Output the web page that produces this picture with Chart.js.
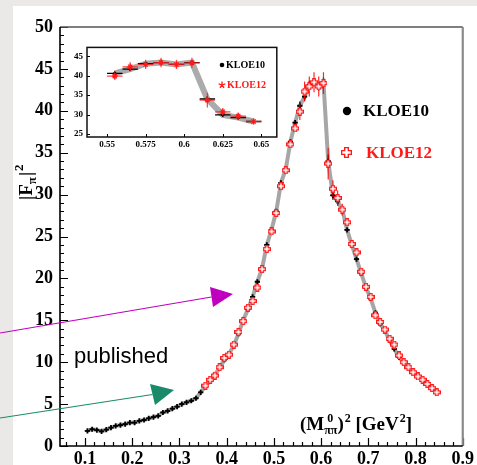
<!DOCTYPE html>
<html>
<head>
<meta charset="utf-8">
<script src="https://cdn.jsdelivr.net/npm/chart.js@4.4.0/dist/chart.umd.min.js"></script>
<style>
  html, body { margin: 0; padding: 0; background: #ebe9e7; }
  #wrap { position: relative; width: 477px; height: 465px; }
  #main { position: absolute; left: 0; top: 0; }
  #inset { position: absolute; left: 66px; top: 38px; }
</style>
</head>
<body>
<div id="wrap">
  <canvas id="main" width="477" height="465"></canvas>
  <canvas id="inset" width="216" height="114"></canvas>
</div>
<script>
// KLOE10: bin centres (GeV^2) and |F_pi|^2
let kloe10X = [
  0.105, 0.115, 0.125, 0.135, 0.145, 0.155, 0.165, 0.175, 0.185, 0.195,
  0.205, 0.215, 0.225, 0.235, 0.245, 0.255, 0.265, 0.275, 0.285, 0.295,
  0.305, 0.315, 0.325, 0.335, 0.345, 0.355, 0.365, 0.375, 0.385, 0.395,
  0.405, 0.415, 0.425, 0.435, 0.445, 0.455, 0.465, 0.475, 0.485, 0.495,
  0.505, 0.515, 0.525, 0.535, 0.545, 0.555, 0.565, 0.575, 0.585, 0.595,
  0.605, 0.615, 0.625, 0.635, 0.645, 0.655, 0.665, 0.675, 0.685, 0.695,
  0.705, 0.715, 0.725, 0.735, 0.745, 0.755, 0.765, 0.775, 0.785, 0.795,
  0.805, 0.815, 0.825, 0.835, 0.845
];
let kloe10Y = [
  1.8, 2.0, 1.9, 1.75, 1.95, 2.2, 2.4, 2.5, 2.6, 2.8,
  2.8, 3.0, 3.1, 3.3, 3.45, 3.6, 4.0, 4.2, 4.45, 4.7,
  5.0, 5.2, 5.4, 5.7, 6.4, 7.1, 7.8, 8.5, 9.3, 10.3,
  11.0, 12.0, 13.4, 15.0, 16.3, 17.8, 19.6, 21.2, 24.0, 25.8,
  28.0, 31.4, 33.0, 36.3, 38.6, 40.6, 41.7, 43.1, 43.4, 42.9,
  43.4, 34.0, 29.9, 29.2, 28.2, 25.8, 24.0, 22.3, 20.6, 18.9,
  17.6, 15.9, 14.6, 13.8, 12.6, 11.6, 10.6, 9.9, 9.3, 8.7,
  8.2, 7.8, 7.3, 6.9, 6.5
];

// KLOE12
let kloe12X = [
  0.355, 0.365, 0.375, 0.385, 0.395,
  0.405, 0.415, 0.425, 0.435, 0.445, 0.455, 0.465, 0.475, 0.485, 0.495,
  0.505, 0.515, 0.525, 0.535, 0.545, 0.555, 0.565, 0.575, 0.585, 0.595,
  0.605, 0.615, 0.625, 0.635, 0.645, 0.655, 0.665, 0.675, 0.685, 0.695,
  0.705, 0.715, 0.725, 0.735, 0.745, 0.755, 0.765, 0.775, 0.785, 0.795,
  0.805, 0.815, 0.825, 0.835, 0.845
];
let kloe12Y = [
  7.2, 7.9, 8.4, 9.4, 10.5,
  10.9, 12.1, 13.6, 14.9, 16.5, 17.3, 18.9, 21.1, 23.5, 25.6,
  27.8, 31.0, 32.9, 36.0, 37.9, 39.9, 42.3, 42.9, 43.4, 42.9,
  43.3, 33.7, 30.7, 29.6, 28.2, 26.7, 24.1, 23.1, 20.8, 19.0,
  17.8, 15.6, 14.8, 13.9, 12.8, 12.1, 10.8, 10.0, 9.4, 8.8,
  8.3, 7.9, 7.4, 6.9, 6.4
];

// vertical errors read around the peak (the inset range)
let peakX = [0.555, 0.565, 0.575, 0.585, 0.595, 0.605, 0.615, 0.625, 0.635, 0.645];
let peakErr10 = [0.5, 0.5, 0.5, 0.5, 0.5, 0.6, 0.8, 0.5, 0.5, 0.4];
let peakErr12 = [1.0, 1.2, 1.2, 1.2, 1.2, 1.3, 1.9, 1.0, 0.9, 0.7];

let mainXTicks = [0.1, 0.2, 0.3, 0.4, 0.5, 0.6, 0.7, 0.8, 0.9];
let mainYTicks = [0, 5, 10, 15, 20, 25, 30, 35, 40, 45, 50];
let insetXTicks = [0.55, 0.575, 0.6, 0.625, 0.65];
let insetYTicks = [25, 30, 35, 40, 45];

const serif = '"Liberation Serif", "DejaVu Serif", serif';

let points = (xs, ys) => xs.map((x, i) => ({ x: x, y: ys[i] }));
let errorsFor = (xs, errs) => xs.map(v => {
  let k = peakX.findIndex(w => Math.abs(w - v) < 1e-6);
  return k >= 0 ? errs[k] : 0;
});
let inRange = (xs, ys, lo, hi) => {
  let out = { x: [], y: [] };
  xs.forEach((v, i) => { if (v > lo && v < hi) { out.x.push(v); out.y.push(ys[i]); } });
  return out;
};

//open red cross used for KLOE12
function openPlus(size, color, lw) {
  let c = document.createElement("canvas");
  c.width = c.height = size;
  let g = c.getContext("2d");
  let a = size / 3, e = 0.6, s = size - 0.6;
  g.beginPath();
  g.moveTo(a, e); g.lineTo(2 * a, e); g.lineTo(2 * a, a); g.lineTo(s, a);
  g.lineTo(s, 2 * a); g.lineTo(2 * a, 2 * a); g.lineTo(2 * a, s); g.lineTo(a, s);
  g.lineTo(a, 2 * a); g.lineTo(e, 2 * a); g.lineTo(e, a); g.lineTo(a, a);
  g.closePath();
  g.fillStyle = "#fff";
  g.fill();
  g.strokeStyle = color;
  g.lineWidth = lw;
  g.stroke();
  return c;
}
let redPlus = openPlus(8, "#ff1a1a", 1.2);
let redPlusBig = openPlus(11, "#ff1a1a", 1.4);

//error bars drawn before each dataset's own markers
const errorBars = {
  id: "errorBars",
  beforeDatasetDraw(chart, args) {
    let ds = chart.data.datasets[args.index];
    if (!ds.errX) return;
    let { ctx, chartArea: a, scales: { x, y } } = chart;
    ctx.save();
    ctx.beginPath();
    ctx.rect(a.left, a.top, a.right - a.left, a.bottom - a.top);
    ctx.clip();
    ctx.strokeStyle = ds.barColor;
    ctx.lineWidth = ds.barWidth;
    ds.data.forEach((p, i) => {
      let px = x.getPixelForValue(p.x), py = y.getPixelForValue(p.y);
      ctx.beginPath();
      ctx.moveTo(x.getPixelForValue(p.x - ds.errX), py);
      ctx.lineTo(x.getPixelForValue(p.x + ds.errX), py);
      let e = ds.errY ? ds.errY[i] : 0;
      if (e) {
        ctx.moveTo(px, y.getPixelForValue(p.y - e));
        ctx.lineTo(px, y.getPixelForValue(p.y + e));
      }
      ctx.stroke();
    });
    ctx.restore();
  },
};

//inward tick marks
function drawTicks(chart, o) {
  let { ctx, chartArea: a, scales: { x, y } } = chart;
  let isMajor = (v, m) => Math.abs(v / m - Math.round(v / m)) < 1e-6;
  ctx.save();
  ctx.strokeStyle = "#000";
  ctx.lineWidth = o.tickWidth;
  ctx.beginPath();
  for (let k = 0; ; k++) {
    let v = o.xFrom + k * o.xMinor;
    if (v > x.max + 1e-9) break;
    if (v < x.min) continue;
    let px = Math.round(x.getPixelForValue(v)) + 0.5;
    let len = isMajor(v, o.xMajor) ? o.major : o.minor;
    ctx.moveTo(px, a.bottom);
    ctx.lineTo(px, a.bottom - len);
  }
  for (let k = 0; ; k++) {
    let v = o.yFrom + k * o.yMinor;
    if (v > y.max + 1e-9) break;
    if (v < y.min) continue;
    let py = Math.round(y.getPixelForValue(v)) + 0.5;
    let len = isMajor(v, o.yMajor) ? o.major : o.minor;
    ctx.moveTo(a.left, py);
    ctx.lineTo(a.left + len, py);
  }
  ctx.stroke();
  ctx.restore();
}

function arrow(ctx, color, x0, y0, tri) {
  ctx.strokeStyle = color;
  ctx.fillStyle = color;
  ctx.lineWidth = 1.2;
  ctx.beginPath();
  ctx.moveTo(x0, y0);
  ctx.lineTo((tri[0][0] + tri[2][0]) / 2, (tri[0][1] + tri[2][1]) / 2);
  ctx.stroke();
  ctx.beginPath();
  ctx.moveTo(tri[0][0], tri[0][1]);
  ctx.lineTo(tri[1][0], tri[1][1]);
  ctx.lineTo(tri[2][0], tri[2][1]);
  ctx.closePath();
  ctx.fill();
}

const mainDecor = {
  id: "mainDecor",
  beforeDraw(chart) {
    let ctx = chart.ctx;
    ctx.save();
    ctx.fillStyle = "#ebe9e7";
    ctx.fillRect(0, 0, chart.width, chart.height);
    ctx.fillStyle = "#ffffff";
    ctx.fillRect(13, 6, chart.width - 13, chart.height - 6);
    ctx.restore();
  },
  afterDraw(chart) {
    let { ctx, chartArea: a } = chart;
    drawTicks(chart, { xFrom: 0.06, xMinor: 0.02, xMajor: 0.1, yFrom: 0, yMinor: 1, yMajor: 5, major: 8, minor: 4, tickWidth: 1.2 });
    ctx.save();
    //frame
    ctx.lineWidth = 1.6;
    ctx.strokeStyle = "#555";
    ctx.beginPath();
    ctx.moveTo(a.left, a.top); ctx.lineTo(a.right, a.top);
    ctx.stroke();
    ctx.strokeStyle = "#8a8a8a";
    ctx.lineWidth = 2.2;
    ctx.beginPath();
    ctx.moveTo(a.right, a.top); ctx.lineTo(a.right, a.bottom);
    ctx.stroke();
    ctx.strokeStyle = "#000";
    ctx.lineWidth = 1.6;
    ctx.beginPath();
    ctx.moveTo(a.left, a.top); ctx.lineTo(a.left, a.bottom); ctx.lineTo(a.right, a.bottom);
    ctx.stroke();

    //axis titles
    ctx.fillStyle = "#000";
    ctx.textBaseline = "alphabetic";
    ctx.textAlign = "left";
    let x = 300, y = 430;
    let big = "bold 19px " + serif, small = "bold 12px " + serif;
    ctx.font = big; ctx.fillText("(M", x, y); x += ctx.measureText("(M").width;
    ctx.font = small; ctx.fillText("0", x + 3, y - 8); ctx.fillText("ππ", x, y + 4); x += ctx.measureText("ππ").width;
    ctx.font = big; ctx.fillText(")", x, y); x += ctx.measureText(")").width;
    ctx.font = small; ctx.fillText("2", x + 1, y - 8); x += ctx.measureText("2").width + 1;
    ctx.font = big; ctx.fillText(" [GeV", x, y); x += ctx.measureText(" [GeV").width;
    ctx.font = small; ctx.fillText("2", x + 1, y - 8); x += ctx.measureText("2").width + 1;
    ctx.font = big; ctx.fillText("]", x, y);

    ctx.save();
    ctx.translate(32, 200);
    ctx.rotate(-Math.PI / 2);
    x = 0;
    ctx.font = "bold 19px " + serif; ctx.fillText("|F", x, 0); x += ctx.measureText("|F").width;
    ctx.font = "bold 13px " + serif; ctx.fillText("π", x, 4); x += ctx.measureText("π").width + 1;
    ctx.font = "bold 19px " + serif; ctx.fillText("|", x, 0); x += ctx.measureText("|").width;
    ctx.font = "bold 13px " + serif; ctx.fillText("2", x + 1, -9);
    ctx.restore();

    //legend
    ctx.fillStyle = "#000";
    ctx.beginPath();
    ctx.arc(347, 111, 4.2, 0, Math.PI * 2);
    ctx.fill();
    ctx.font = "bold 17px " + serif;
    ctx.textBaseline = "middle";
    ctx.fillText("KLOE10", 363, 112);
    ctx.drawImage(redPlusBig, 341, 147);
    ctx.fillStyle = "#ff1a1a";
    ctx.fillText("KLOE12", 366, 154);

    //annotations
    arrow(ctx, "#c000c0", 0, 333, [[210, 287], [233, 294], [213, 307]]);
    arrow(ctx, "#1b8a6b", 0, 418, [[150, 384], [174, 390], [155, 405]]);
    ctx.fillStyle = "#000";
    ctx.textBaseline = "alphabetic";
    ctx.font = '22px "Liberation Sans", Arial, sans-serif';
    ctx.fillText("published", 74, 363);
    ctx.restore();
  },
};

const insetDecor = {
  id: "insetDecor",
  afterDraw(chart) {
    let { ctx, chartArea: a } = chart;
    drawTicks(chart, { xFrom: 0.55, xMinor: 0.025, xMajor: 0.025, yFrom: 25, yMinor: 5, yMajor: 5, major: 3, minor: 3, tickWidth: 1 });
    ctx.save();
    ctx.strokeStyle = "#111";
    ctx.lineWidth = 1.5;
    ctx.strokeRect(a.left, a.top, a.right - a.left, a.bottom - a.top);
    ctx.fillStyle = "#000";
    ctx.beginPath();
    ctx.arc(156, 27, 2.3, 0, Math.PI * 2);
    ctx.fill();
    ctx.font = "bold 10px " + serif;
    ctx.textBaseline = "middle";
    ctx.fillText("KLOE10", 160, 27.5);
    ctx.fillStyle = "#ff1a1a";
    ctx.fillText("KLOE12", 161, 47.5);
    ctx.strokeStyle = "#ff1a1a";
    ctx.lineWidth = 1.3;
    ctx.beginPath();
    for (let k = 0; k < 5; k++) {
      let ang = -Math.PI / 2 + k * Math.PI * 2 / 5;
      let r = 3.5;
      ctx.moveTo(156, 47);
      ctx.lineTo(156 + r * Math.cos(ang), 47 + r * Math.sin(ang));
    }
    ctx.stroke();
    ctx.restore();
  },
};

function fixedTicks(list) {
  return (s) => { s.ticks = list.map((v) => ({ value: v })); };
}

// main chart
new Chart(document.getElementById("main"), {
  type: "scatter",
  data: {
    datasets: [
      {
        type: "line",
        data: points(kloe10X, kloe10Y),
        borderColor: "rgba(150,150,150,0.85)",
        borderWidth: 4,
        pointRadius: 0,
        tension: 0,
        order: 3,
      },
      {
        data: points(kloe10X, kloe10Y),
        pointStyle: "cross",
        pointRadius: 2.6,
        borderColor: "#000",
        borderWidth: 1.8,
        errX: 0.005,
        errY: errorsFor(kloe10X, peakErr10),
        barColor: "#000",
        barWidth: 1.2,
        order: 2,
      },
      {
        data: points(kloe12X, kloe12Y),
        pointStyle: redPlus,
        errX: 0.005,
        errY: errorsFor(kloe12X, peakErr12),
        barColor: "rgba(255,0,0,0.85)",
        barWidth: 1.2,
        order: 1,
      },
    ],
  },
  options: {
    responsive: false,
    animation: false,
    layout: { padding: { left: 0, right: 10, top: 27, bottom: 0 } },
    scales: {
      x: {
        type: "linear",
        min: 0.047,
        max: 0.9,
        afterBuildTicks: fixedTicks(mainXTicks),
        afterFit: (s) => { s.height = 19; },
        grid: { display: false, drawTicks: false },
        border: { display: false },
        ticks: {
          color: "#000",
          font: { family: serif, size: 18, weight: "bold" },
          padding: 3,
          maxRotation: 0,
          autoSkip: false,
          callback: (v) => v.toFixed(1),
        },
      },
      y: {
        min: 0,
        max: 50,
        afterBuildTicks: fixedTicks(mainYTicks),
        afterFit: (s) => { s.width = 60; },
        grid: { display: false, drawTicks: false },
        border: { display: false },
        ticks: {
          color: "#000",
          font: { family: serif, size: 18, weight: "bold" },
          padding: 7,
          autoSkip: false,
        },
      },
    },
    plugins: { legend: { display: false }, tooltip: { enabled: false } },
  },
  plugins: [errorBars, mainDecor],
});

// inset zoom on the peak
let in10 = inRange(kloe10X, kloe10Y, 0.55, 0.65);
let in12 = inRange(kloe12X, kloe12Y, 0.55, 0.65);

new Chart(document.getElementById("inset"), {
  type: "scatter",
  data: {
    datasets: [
      {
        type: "line",
        data: points(in10.x, in10.y),
        borderColor: "rgba(150,150,150,0.8)",
        borderWidth: 6,
        pointRadius: 0,
        tension: 0,
        order: 3,
      },
      {
        data: points(in10.x, in10.y),
        pointStyle: "circle",
        pointRadius: 1.3,
        backgroundColor: "#000",
        borderColor: "#000",
        errX: 0.005,
        errY: errorsFor(in10.x, peakErr10),
        barColor: "#000",
        barWidth: 1.3,
        order: 2,
      },
      {
        data: points(in12.x, in12.y),
        pointStyle: "star",
        pointRadius: 3,
        borderColor: "#ff1a1a",
        borderWidth: 1.2,
        errX: 0.005,
        errY: errorsFor(in12.x, peakErr12),
        barColor: "rgba(255,30,30,0.8)",
        barWidth: 1.3,
        order: 1,
      },
    ],
  },
  options: {
    responsive: false,
    animation: false,
    layout: { padding: { left: 0, right: 5, top: 8, bottom: 0 } },
    scales: {
      x: {
        type: "linear",
        min: 0.537,
        max: 0.66,
        afterBuildTicks: fixedTicks(insetXTicks),
        afterFit: (s) => { s.height = 15; },
        grid: { display: false, drawTicks: false },
        border: { display: false },
        ticks: {
          color: "#000",
          font: { family: serif, size: 9, weight: "bold" },
          padding: 2,
          maxRotation: 0,
          autoSkip: false,
          callback: (v) => String(v),
        },
      },
      y: {
        min: 24.2,
        max: 47.3,
        afterBuildTicks: fixedTicks(insetYTicks),
        afterFit: (s) => { s.width = 21; },
        grid: { display: false, drawTicks: false },
        border: { display: false },
        ticks: {
          color: "#000",
          font: { family: serif, size: 9, weight: "bold" },
          padding: 4,
          autoSkip: false,
        },
      },
    },
    plugins: { legend: { display: false }, tooltip: { enabled: false } },
  },
  plugins: [errorBars, insetDecor],
});
</script>
</body>
</html>
